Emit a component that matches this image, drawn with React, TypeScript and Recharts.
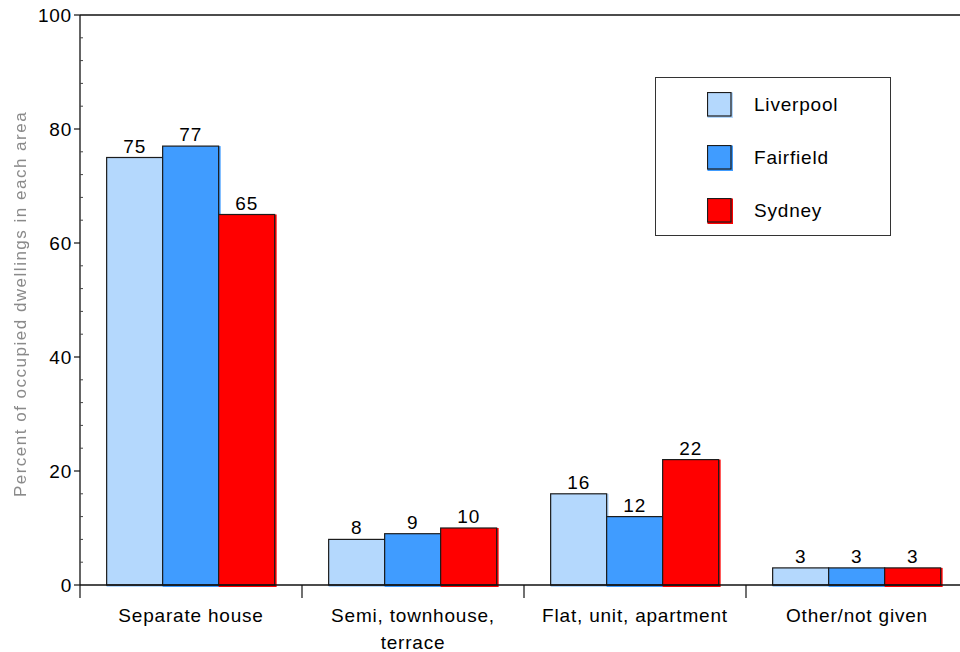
import { Bar, BarChart, LabelList, Legend, ReferenceLine, XAxis, YAxis } from 'recharts';

// "\n" marks where a long category name breaks onto a second line
const categories = ['Separate house', 'Semi, townhouse,\nterrace', 'Flat, unit, apartment', 'Other/not given'];
const liverpool = [75, 8, 16, 3];
const fairfield = [77, 9, 12, 3];
const sydney = [65, 10, 22, 3];

const yMajorTicks = [0, 20, 40, 60, 80, 100];
const yAllTicks = [0, 4, 8, 12, 16, 20, 24, 28, 32, 36, 40, 44, 48, 52, 56, 60, 64, 68, 72, 76, 80, 84, 88, 92, 96, 100];

const FONT = '"Liberation Sans", Arial, Helvetica, sans-serif';
const INK = '#111';
const TEXT_SIZE = 19;
const TRACKING = 0.8;

const series = [
  { key: 'liverpool', name: 'Liverpool', fill: '#b4d8fd' },
  { key: 'fairfield', name: 'Fairfield', fill: '#409cff' },
  { key: 'sydney', name: 'Sydney', fill: '#ff0000' },
];

const data = categories.map((name, i) => ({
  name,
  liverpool: liverpool[i],
  fairfield: fairfield[i],
  sydney: sydney[i],
}));

// fill is drawn slightly offset from the outline, like the old print style
function OutlinedBar(props: any) {
  const { x, y, width, height, fill } = props;
  if (!height || height <= 0) return null;
  return (
    <g>
      <rect x={x} y={y} width={width + 2} height={height + 2} fill={fill} />
      <rect x={x} y={y} width={width} height={height} fill="none" stroke="#1c1c1c" strokeWidth={1.2} />
    </g>
  );
}

function ValueTick(props: any) {
  const { x, y, payload } = props;
  const major = yMajorTicks.includes(payload.value);
  return (
    <g>
      {major ? (
        <line x1={x - 6} y1={y} x2={x} y2={y} stroke={INK} strokeWidth={1.2} />
      ) : (
        <line x1={x} y1={y} x2={x + 3} y2={y} stroke="#444" strokeWidth={1} />
      )}
      {major && (
        <text
          x={x - 8}
          y={y}
          textAnchor="end"
          dominantBaseline="central"
          fontFamily={FONT}
          fontSize={TEXT_SIZE}
          letterSpacing={TRACKING}
          fill="#000"
        >
          {payload.value}
        </text>
      )}
    </g>
  );
}

function CategoryTick(props: any) {
  const { x, y, payload } = props;
  const left = x - (payload.offset ?? 0);
  const lines = String(payload.value).split('\n');
  return (
    <g>
      <line x1={left} y1={y} x2={left} y2={y + 13} stroke={INK} strokeWidth={1.2} />
      <text
        x={x}
        y={y + 37}
        textAnchor="middle"
        fontFamily={FONT}
        fontSize={TEXT_SIZE}
        letterSpacing={TRACKING}
        fill="#000"
      >
        {lines.map((line, i) => (
          <tspan key={line} x={x} dy={i === 0 ? 0 : 27}>
            {line}
          </tspan>
        ))}
      </text>
    </g>
  );
}

function AxisTitle(props: any) {
  const { viewBox } = props;
  const cx = viewBox.x + 26;
  const cy = viewBox.y + viewBox.height / 2 + 4;
  return (
    <text
      x={cx}
      y={cy}
      transform={`rotate(-90 ${cx} ${cy})`}
      textAnchor="middle"
      fontFamily={FONT}
      fontSize={17}
      letterSpacing={1.5}
      fill="#8a8a8a"
      filter="url(#soft)"
    >
      Percent of occupied dwellings in each area
    </text>
  );
}

function LegendBox() {
  return (
    <div
      style={{
        boxSizing: 'border-box',
        width: 236,
        height: 159,
        border: '1.5px solid #333',
        background: '#fff',
        position: 'relative',
        fontFamily: FONT,
      }}
    >
      {series.map((s, i) => (
        <div
          key={s.key}
          style={{ position: 'absolute', left: 51, top: 14 + i * 53, display: 'flex', alignItems: 'center', height: 26 }}
        >
          <svg width={27} height={27} style={{ display: 'block' }}>
            <rect x={0.5} y={0.5} width={25.5} height={25.5} fill={s.fill} />
            <rect x={0.5} y={0.5} width={23.5} height={23.5} fill="none" stroke="#1c1c1c" strokeWidth={1.2} />
          </svg>
          <span style={{ marginLeft: 20, fontSize: TEXT_SIZE, letterSpacing: TRACKING, color: '#000' }}>{s.name}</span>
        </div>
      ))}
    </div>
  );
}

export default function App() {
  return (
    <div style={{ position: 'absolute', left: 0, top: 0, width: 960, height: 652, overflow: 'hidden', background: '#fff' }}>
      <BarChart
        width={968}
        height={652}
        data={data}
        margin={{ top: 15, right: 0, left: 0, bottom: 0 }}
        barCategoryGap="12%"
        barGap={0}
      >
        <defs>
          <filter id="soft" x="-10%" y="-10%" width="120%" height="120%">
            <feGaussianBlur stdDeviation={0.45} />
          </filter>
        </defs>
        {series.map((s) => (
          <Bar key={s.key} dataKey={s.key} name={s.name} fill={s.fill} shape={<OutlinedBar />} isAnimationActive={false}>
            <LabelList
              dataKey={s.key}
              position="top"
              offset={5}
              fill="#000"
              fontSize={TEXT_SIZE}
              fontFamily={FONT}
              style={{ letterSpacing: TRACKING }}
            />
          </Bar>
        ))}
        <ReferenceLine y={100} stroke={INK} strokeWidth={1.3} />
        <YAxis
          width={80}
          domain={[0, 100]}
          ticks={yAllTicks}
          interval={0}
          tickSize={0}
          tickMargin={0}
          tickLine={false}
          axisLine={{ stroke: INK, strokeWidth: 1.3 }}
          tick={<ValueTick />}
          label={<AxisTitle />}
        />
        <XAxis
          dataKey="name"
          height={67}
          interval={0}
          tickSize={0}
          tickMargin={0}
          tickLine={false}
          axisLine={{ stroke: INK, strokeWidth: 1.3 }}
          tick={<CategoryTick />}
        />
        <Legend
          layout="vertical"
          align="center"
          verticalAlign="middle"
          wrapperStyle={{ left: 655, top: 77, width: 236, height: 159 }}
          content={<LegendBox />}
        />
      </BarChart>
    </div>
  );
}
